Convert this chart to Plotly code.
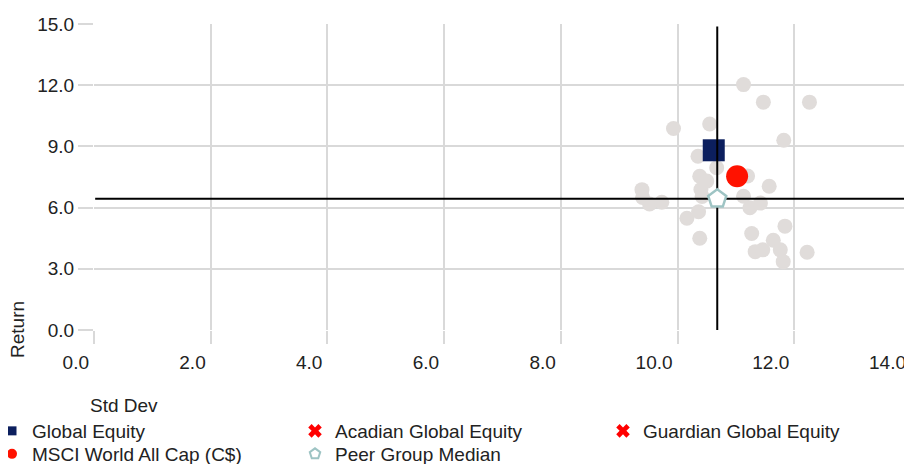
import plotly.graph_objects as go

# ---- data ----
peer_std = [11.13, 11.47, 12.26, 9.93, 10.55, 11.82, 10.35, 10.67, 10.38, 11.20,
            10.50, 11.57, 9.39, 9.40, 9.52, 9.73, 10.40, 10.42, 11.13, 11.24,
            11.42, 10.16, 10.36, 10.38, 11.27, 11.84, 11.64, 11.33, 11.46, 11.76,
            11.81, 12.22]
peer_ret = [12.03, 11.17, 11.17, 9.88, 10.10, 9.30, 8.52, 7.95, 7.54, 7.55,
            7.30, 7.05, 6.88, 6.50, 6.18, 6.26, 6.89, 6.55, 6.56, 5.99,
            6.22, 5.48, 5.80, 4.50, 4.73, 5.09, 4.40, 3.84, 3.93, 3.93,
            3.35, 3.81]

global_equity_std = [10.62]
global_equity_ret = [8.81]
acadian_std = [None]
acadian_ret = [None]
guardian_std = [None]
guardian_ret = [None]
msci_std = [11.02]
msci_ret = [7.54]
median_std = [10.68]
median_ret = [6.43]

x_ticks = [0, 2, 4, 6, 8, 10, 12, 14]
y_ticks = [0, 3, 6, 9, 12, 15]

FONT = "Liberation Sans, Arial, sans-serif"
TXT = "#222222"
GRID = "#d9d9d9"
FS = 19

NAVY = "#0c1f5e"
RED = "#ff1200"
TEAL = "#9ec4c4"

# figure is drawn inside the page body (8 px default margin)
FW, FH = 904, 456
OFF = 8

fig = go.Figure()

# ---- plotted marks ----
fig.add_trace(go.Scatter(x=peer_std, y=peer_ret, mode="markers", showlegend=False,
                         marker=dict(size=15, color="#e0dcda"), hoverinfo="skip"))
fig.add_trace(go.Scatter(x=global_equity_std, y=global_equity_ret, mode="markers",
                         name="Global Equity", showlegend=False,
                         marker=dict(symbol="square", size=22, color=NAVY)))
fig.add_trace(go.Scatter(x=acadian_std, y=acadian_ret, mode="markers",
                         name="Acadian Global Equity", legend="legend2",
                         marker=dict(symbol="x", size=12, color="#ff0000")))
fig.add_trace(go.Scatter(x=guardian_std, y=guardian_ret, mode="markers",
                         name="Guardian Global Equity", legend="legend3",
                         marker=dict(symbol="x", size=12, color="#ff0000")))
fig.add_trace(go.Scatter(x=msci_std, y=msci_ret, mode="markers",
                         name="MSCI World All Cap (C$)", showlegend=False,
                         marker=dict(symbol="circle", size=22, color=RED)))
# median cross lines
fig.add_trace(go.Scatter(x=[x_ticks[0] + 0.02, x_ticks[-1]], y=[median_ret[0], median_ret[0]],
                         mode="lines", showlegend=False, line=dict(color="black", width=2),
                         hoverinfo="skip"))
fig.add_trace(go.Scatter(x=[median_std[0], median_std[0]], y=[y_ticks[0] - 0.1, y_ticks[-1] - 0.12],
                         mode="lines", showlegend=False, line=dict(color="black", width=2),
                         hoverinfo="skip"))
fig.add_trace(go.Scatter(x=median_std, y=median_ret, mode="markers",
                         name="Peer Group Median", showlegend=False,
                         marker=dict(symbol="pentagon", size=19, color="white",
                                     line=dict(color=TEAL, width=2.5))))

# ---- legend-only entries (smaller legend symbols) ----
fig.add_trace(go.Scatter(x=[None], y=[None], mode="markers", name="Global Equity",
                         legend="legend", marker=dict(symbol="square", size=9, color=NAVY)))
fig.add_trace(go.Scatter(x=[None], y=[None], mode="markers", name="MSCI World All Cap (C$)",
                         legend="legend4", marker=dict(symbol="circle", size=10, color=RED)))
fig.add_trace(go.Scatter(x=[None], y=[None], mode="markers", name="Peer Group Median",
                         legend="legend5",
                         marker=dict(symbol="pentagon", size=11, color="white",
                                     line=dict(color=TEAL, width=2))))

axis_common = dict(showgrid=True, gridcolor=GRID, gridwidth=2, zeroline=False,
                   showline=False, ticks="outside", tickcolor=GRID, tickwidth=2,
                   tickformat=".1f", automargin=False,
                   tickfont=dict(family=FONT, size=FS, color=TXT))

fig.update_xaxes(range=[0, 14], tickvals=x_ticks, ticklen=13,
                 ticklabelposition="outside left", ticklabelstandoff=15,
                 ticklabelshift=-4, **axis_common)
fig.update_yaxes(range=[0, 15], tickvals=y_ticks, ticklen=15, ticklabelstandoff=0,
                 **axis_common)

L, T, W, H = 86, 16, 817, 306


def px_x(p):
    # p is a page pixel position
    return (p - OFF - L) / W


def px_y(p):
    return (T + H - (p - OFF)) / H


leg_common = dict(orientation="v", yanchor="middle", xanchor="left", bgcolor="rgba(0,0,0,0)",
                  font=dict(family=FONT, size=FS, color=TXT), itemsizing="trace",
                  tracegroupgap=0)
row1, row2 = 431, 454
col1, col2, col3 = -8, 295, 603
fig.update_layout(
    width=FW, height=FH,
    margin=dict(l=L, r=FW - L - W, t=T, b=FH - T - H, autoexpand=False),
    paper_bgcolor="white", plot_bgcolor="white",
    font=dict(family=FONT, size=FS, color=TXT),
    legend=dict(x=px_x(col1), y=px_y(row1), **leg_common),
    legend2=dict(x=px_x(col2), y=px_y(row1), **leg_common),
    legend3=dict(x=px_x(col3), y=px_y(row1), **leg_common),
    legend4=dict(x=px_x(col1), y=px_y(row2), **leg_common),
    legend5=dict(x=px_x(col2), y=px_y(row2), **leg_common),
    annotations=[
        dict(text="Std Dev", xref="paper", yref="paper", x=px_x(124), y=px_y(405),
             xanchor="center", yanchor="middle", showarrow=False,
             font=dict(family=FONT, size=FS, color=TXT)),
        dict(text="Return", xref="paper", yref="paper", x=px_x(17), y=px_y(330),
             xanchor="center", yanchor="middle", showarrow=False, textangle=-90,
             font=dict(family=FONT, size=FS, color=TXT)),
    ],
)

fig.write_html("out.html")
